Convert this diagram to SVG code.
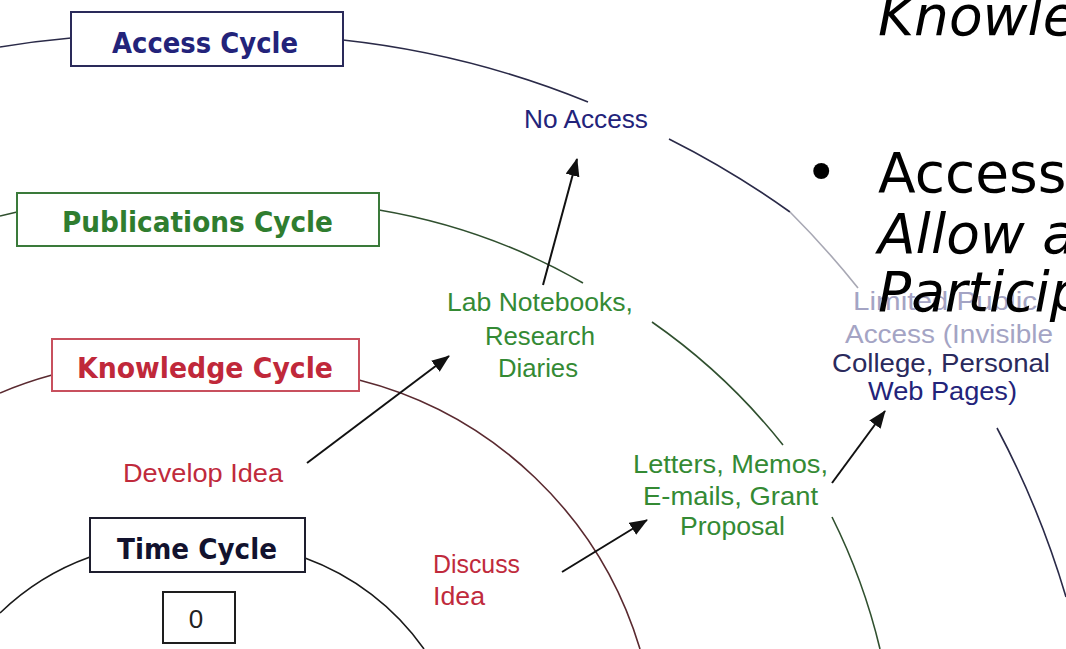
<svg xmlns="http://www.w3.org/2000/svg" width="1066" height="649" viewBox="0 0 1066 649">
<style>
.box{fill:#fff;stroke-width:2}
.title{font-family:"DejaVu Sans",Verdana,sans-serif;font-weight:bold;font-size:28px}
.lbl{font-family:"Liberation Sans",Arial,sans-serif;font-size:26px}
.arc{fill:none;stroke-width:1.6}
.arr{fill:none;stroke:#111;stroke-width:2;marker-end:url(#ah)}
.slide{font-family:"DejaVu Sans",Verdana,sans-serif;font-size:55px;fill:#000}
.navy{fill:#23237a}
.green{fill:#348a34}
.red{fill:#c02a3c}
</style>
<defs>
<marker id="ah" markerUnits="userSpaceOnUse" markerWidth="19" markerHeight="15" refX="17" refY="7" orient="auto">
<path d="M0,0 L18,7 L0,14 z" fill="#111"/>
</marker>
</defs>
<rect width="1066" height="649" fill="#fff"/>

<g id="connectors">
<!-- Access cycle arc -->
<path class="arc" stroke="#2a2a48" d="M0,47 A909,909 0 0 1 71,38"/>
<path class="arc" stroke="#2a2a48" d="M343,40 A909,909 0 0 1 588,102"/>
<path class="arc" stroke="#2a2a48" d="M669,139 A909,909 0 0 1 790,212"/>
<path class="arc" stroke="#a8a8b4" d="M790,212 A909,909 0 0 1 858,288"/>
<path class="arc" stroke="#2a2a48" d="M997,428 A909,909 0 0 1 1066,597"/>
<!-- Publications cycle arc -->
<path class="arc" stroke="#30502f" d="M0,216 L17,212"/>
<path class="arc" stroke="#30502f" d="M379,210 A615,615 0 0 1 583,283"/>
<path class="arc" stroke="#30502f" d="M652,322 A615,615 0 0 1 783,445"/>
<path class="arc" stroke="#30502f" d="M832,517 A615,615 0 0 1 880,649"/>
<!-- Knowledge cycle arc -->
<path class="arc" stroke="#5a2a30" d="M0,393 A400,400 0 0 1 52,375"/>
<path class="arc" stroke="#5a2a30" d="M359,380 A395,395 0 0 1 640,649"/>
<!-- Time cycle arc -->
<path class="arc" stroke="#1a1a1a" d="M0,613 A250,250 0 0 1 90,557"/>
<path class="arc" stroke="#1a1a1a" d="M305,558 A250,250 0 0 1 424,649"/>
<!-- arrows -->
<path class="arr" d="M543,285 L577,159"/>
<path class="arr" d="M307,463 L449,356"/>
<path class="arr" d="M562,572 L647,520"/>
<path class="arr" d="M832,483 L885,411"/>
</g>

<g id="access-cycle">
<rect class="box" x="71" y="12" width="272" height="54" stroke="#2a2a5a"/>
<text class="title navy" x="112" y="53" textLength="186" lengthAdjust="spacingAndGlyphs">Access Cycle</text>
</g>
<g id="publications-cycle">
<rect class="box" x="17" y="193" width="362" height="53" stroke="#3a7a3a"/>
<text class="title" fill="#2f7d2f" x="62" y="232" textLength="271" lengthAdjust="spacingAndGlyphs">Publications Cycle</text>
</g>
<g id="knowledge-cycle">
<rect class="box" x="52" y="339" width="307" height="52" stroke="#c8505e"/>
<text class="title" fill="#c0283a" x="77" y="378" textLength="256" lengthAdjust="spacingAndGlyphs">Knowledge Cycle</text>
</g>
<g id="time-cycle">
<rect class="box" x="90" y="518" width="215" height="54" stroke="#1e1e2e"/>
<text class="title" fill="#12122e" x="117" y="559" textLength="160" lengthAdjust="spacingAndGlyphs">Time Cycle</text>
</g>
<g id="time-zero">
<rect class="box" x="163" y="592" width="72" height="51" stroke="#1e1e1e"/>
<text class="lbl" fill="#222" x="196" y="628" font-size="22" text-anchor="middle">0</text>
</g>

<g id="no-access">
<text class="lbl navy" x="524" y="128" textLength="124" lengthAdjust="spacingAndGlyphs">No Access</text>
</g>
<g id="lab-notebooks">
<text class="lbl green" x="447" y="311" textLength="186" lengthAdjust="spacingAndGlyphs">Lab Notebooks,</text>
<text class="lbl green" x="485" y="345" textLength="110" lengthAdjust="spacingAndGlyphs">Research</text>
<text class="lbl green" x="498" y="377" textLength="80" lengthAdjust="spacingAndGlyphs">Diaries</text>
</g>
<g id="develop-idea">
<text class="lbl red" x="123" y="482" textLength="160" lengthAdjust="spacingAndGlyphs">Develop Idea</text>
</g>
<g id="discuss-idea">
<text class="lbl red" x="433" y="573" textLength="87" lengthAdjust="spacingAndGlyphs">Discuss</text>
<text class="lbl red" x="433" y="605" textLength="52" lengthAdjust="spacingAndGlyphs">Idea</text>
</g>
<g id="letters">
<text class="lbl green" x="633" y="473" textLength="195" lengthAdjust="spacingAndGlyphs">Letters, Memos,</text>
<text class="lbl green" x="643" y="505" textLength="175" lengthAdjust="spacingAndGlyphs">E-mails, Grant</text>
<text class="lbl green" x="680" y="535" textLength="105" lengthAdjust="spacingAndGlyphs">Proposal</text>
</g>
<g id="limited-access">
<text class="lbl" fill="#a4a4c4" x="853" y="310" textLength="184" lengthAdjust="spacingAndGlyphs">Limited Public</text>
<text class="lbl" fill="#a4a4c4" x="845" y="343" textLength="208" lengthAdjust="spacingAndGlyphs">Access (Invisible</text>
<text class="lbl" fill="#2a2a5c" x="832" y="372" textLength="218" lengthAdjust="spacingAndGlyphs">College, Personal</text>
<text class="lbl navy" x="868" y="400" textLength="149" lengthAdjust="spacingAndGlyphs">Web Pages)</text>
</g>

<g id="slide-text">
<text class="slide" font-style="italic" x="878" y="35">Knowle</text>
<text class="slide" x="805" y="192">•</text>
<text class="slide" x="878" y="192">Accesso</text>
<text class="slide" font-style="italic" x="878" y="253">Allow a</text>
<text class="slide" font-style="italic" x="878" y="311">Particip</text>
</g>
</svg>
